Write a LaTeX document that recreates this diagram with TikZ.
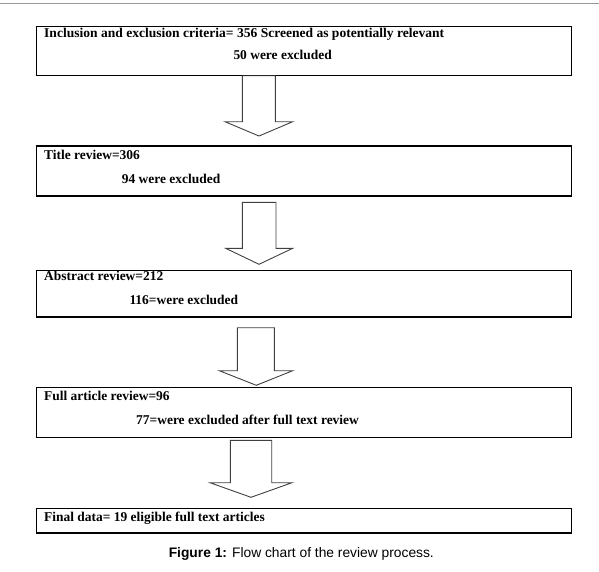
\documentclass[tikz,border=0pt]{standalone}
\usepackage{fontspec}
\usepackage{graphicx}
\setmainfont{Liberation Serif}
\newfontfamily\capfont{Liberation Sans}
\begin{document}
\begin{tikzpicture}[x=1pt,y=-1pt,
  box/.style={draw=black,line width=1.3pt,minimum width=535pt,inner sep=0pt,anchor=center},
  txt/.style={inner sep=0pt,anchor=base west,font=\fontsize{13.45}{16}\selectfont\bfseries},
  blockarrow/.style={draw=black!75,line width=0.9pt,line join=miter},
  topline/.style={draw=black!40,line width=1.3pt}]
\useasboundingbox (0,0) rectangle (599,571);
\draw[topline] (0,3.3) -- (599,3.3);
% boxes
\node[box,minimum height=49.4pt] (b1) at (303.8,51) {};
\node[box,minimum height=50pt] (b2) at (303.8,171) {};
\node[box,minimum height=46.3pt] (b3) at (303.8,293.85) {};
\node[box,minimum height=50pt] (b4) at (303.8,412.3) {};
\node[box,minimum height=24.3pt] (b5) at (303.8,520.85) {};
% texts
\node[txt] (t1a) at (44,37.7) {\resizebox{400pt}{\height}{Inclusion and exclusion criteria= 356 Screened as potentially relevant}};
\node[txt] (t1b) at (233.3,59) {50 were excluded};
\node[txt] (t2a) at (44,159) {Title review=306};
\node[txt] (t2b) at (121.7,183.3) {94 were excluded};
\node[txt] (t3a) at (44,280) {Abstract review=212};
\node[txt] (t3b) at (129.3,304) {116=were excluded};
\node[txt] (t4a) at (44,400.7) {Full article review=96};
\node[txt] (t4b) at (136,424) {77=were excluded after full text review};
\node[txt] (t5a) at (44,521.7) {Final data= 19 eligible full text articles};
% block arrows
\draw[blockarrow] (242.3,75.7) -- (242.3,121.7) -- (225,121.7) -- (259,136) -- (292.7,121.7) -- (275.3,121.7) -- (275.3,75.7) -- cycle;
\draw[blockarrow] (242.3,202.3) -- (242.3,248.3) -- (225.7,248.3) -- (259,264.3) -- (292.7,248.3) -- (276,248.3) -- (276,202.3) -- cycle;
\draw[blockarrow] (237.3,327.7) -- (237.3,370.7) -- (219.3,370.7) -- (256.3,385.3) -- (292.7,370.7) -- (274.3,370.7) -- (274.3,327.7) -- cycle;
\draw[blockarrow] (230.3,440.3) -- (230.3,482.7) -- (210,482.7) -- (251,497.3) -- (292,482.7) -- (271.7,482.7) -- (271.7,440.3) -- cycle;
% caption
\node[inner sep=0pt,anchor=base,font=\capfont\fontsize{13.8}{16}\selectfont] (cap) at (301.3,557.7) {\textbf{Figure 1:} Flow chart of the review process.};
\end{tikzpicture}
\end{document}
